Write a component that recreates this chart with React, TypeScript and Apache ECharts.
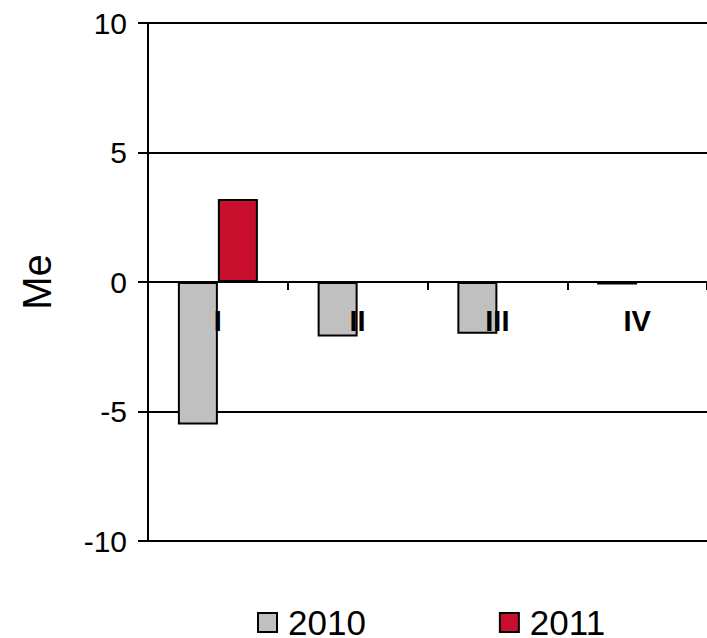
import React, { useEffect, useRef } from "react";
import * as echarts from "echarts";

const categories = ["I", "II", "III", "IV"];
const series2010 = [-5.5, -2.1, -2.0, -0.1];
const series2011: (number | null)[] = [3.2, null, null, null];
const yTicks = [-10, -5, 0, 5, 10];
const seriesNames = ["2010", "2011"];
const yName = "Me";

const FONT = "'Liberation Sans', Arial, sans-serif";
const W = 707;
const H = 638;
const GRID = { left: 148, right: 0, top: 23, bottom: 97 };
const LABEL_GAP = 24;

export default function App() {
  const ref = useRef<HTMLDivElement>(null);
  useEffect(() => {
    if (!ref.current) return;
    const chart = echarts.init(ref.current, null, { renderer: "svg" });
    const option: any = {
      animation: false,
      backgroundColor: "#ffffff",
      textStyle: { fontFamily: FONT },
      grid: { ...GRID, containLabel: false },
      legend: {
        left: 257,
        top: 605,
        padding: 0,
        icon: "rect",
        itemWidth: 19,
        itemHeight: 19,
        itemGap: 133,
        textStyle: { fontSize: 35, lineHeight: 30, color: "#000", fontFamily: FONT, padding: [0, 0, 0, 6] },
        data: seriesNames,
      },
      xAxis: {
        type: "category",
        data: categories,
        z: 10,
        axisLine: { onZero: true, lineStyle: { color: "#000", width: 2 } },
        axisTick: { show: true, length: 8, lineStyle: { color: "#000", width: 2 } },
        axisLabel: { fontSize: 29, fontWeight: "bold", color: "#000", margin: LABEL_GAP, fontFamily: FONT },
        splitLine: { show: false },
      },
      yAxis: {
        type: "value",
        min: yTicks[0],
        max: yTicks[yTicks.length - 1],
        interval: 5,
        name: yName,
        nameLocation: "middle",
        nameRotate: 90,
        nameGap: 91,
        nameTextStyle: { fontSize: 40, color: "#000", fontFamily: FONT },
        axisLine: { show: true, lineStyle: { color: "#000", width: 2 } },
        axisTick: { show: true, length: 10, lineStyle: { color: "#000", width: 2 } },
        axisLabel: { fontSize: 30, color: "#000", margin: 21, fontFamily: FONT },
        splitLine: { show: true, lineStyle: { color: "#000", width: 2 } },
      },
      series: [
        {
          name: seriesNames[0],
          type: "bar",
          data: series2010,
          barWidth: 40,
          barGap: "0%",
          itemStyle: { color: "#C0C0C0", borderColor: "#000", borderWidth: 2 },
        },
        {
          name: seriesNames[1],
          type: "bar",
          data: series2011,
          barWidth: 40,
          barGap: "0%",
          itemStyle: { color: "#C8102E", borderColor: "#000", borderWidth: 2 },
        },
      ],
    };
    chart.setOption(option);
    // labels sit at the grid's bottom edge; move them up to just below the zero line
    const zeroY = chart.convertToPixel({ yAxisIndex: 0 }, 0) as number;
    const bottomY = chart.convertToPixel({ yAxisIndex: 0 }, yTicks[0]) as number;
    chart.setOption({ xAxis: { axisLabel: { margin: LABEL_GAP - (bottomY - zeroY) } } });
    return () => chart.dispose();
  }, []);
  return (
    <div
      ref={ref}
      style={{ position: "fixed", left: 0, top: 0, width: W, height: H }}
    />
  );
}
